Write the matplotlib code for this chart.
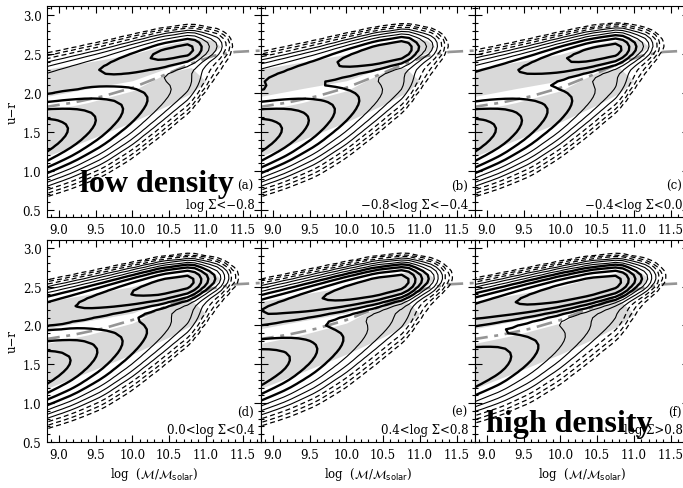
import numpy as np
import matplotlib.pyplot as plt

# environment bins
panel_tags = ['(a)', '(b)', '(c)', '(d)', '(e)', '(f)']
sigma_bins = ['log \u03a3<\u22120.8', '\u22120.8<log \u03a3<\u22120.4', '\u22120.4<log \u03a3<0.0',
              '0.0<log \u03a3<0.4', '0.4<log \u03a3<0.8', 'log \u03a3>0.8']

# colour-mass sequences sampled along stellar mass
mass_nodes = [8.8, 9.2, 9.6, 10.0, 10.4, 10.8, 11.2, 11.6]
red_mu = [2.18, 2.26, 2.34, 2.42, 2.50, 2.57, 2.62, 2.65]
red_sig = [0.15, 0.145, 0.14, 0.135, 0.13, 0.12, 0.11, 0.10]
blue_mu = [1.45, 1.56, 1.69, 1.84, 2.00, 2.15, 2.40, 2.55]
blue_sig = [0.26, 0.27, 0.28, 0.27, 0.24, 0.19, 0.13, 0.10]

# log ridge density of each sequence per environment bin
red_ridge = [
    [-0.98, -0.92, -0.85, -0.70, -0.54, -0.50, -1.30, -3.20],
    [-0.88, -0.82, -0.74, -0.58, -0.44, -0.42, -1.25, -3.10],
    [-0.78, -0.72, -0.62, -0.46, -0.34, -0.33, -1.20, -3.00],
    [-0.62, -0.55, -0.45, -0.32, -0.20, -0.22, -1.10, -2.90],
    [-0.46, -0.38, -0.27, -0.15, -0.07, -0.12, -1.05, -2.80],
    [-0.30, -0.22, -0.12, -0.03, 0.00, -0.08, -1.00, -2.80],
]
blue_ridge = [
    [0.00, -0.20, -0.42, -0.64, -0.90, -1.15, -1.90, -3.40],
    [-0.02, -0.22, -0.45, -0.68, -0.94, -1.20, -1.95, -3.40],
    [-0.05, -0.25, -0.49, -0.72, -0.98, -1.25, -2.00, -3.40],
    [-0.15, -0.33, -0.56, -0.80, -1.05, -1.30, -2.05, -3.40],
    [-0.25, -0.42, -0.64, -0.87, -1.12, -1.36, -2.10, -3.40],
    [-0.35, -0.50, -0.72, -0.94, -1.18, -1.42, -2.15, -3.40],
]

# +-1 sigma shading of the two sequences
red_band_x = [8.84, 9.4, 10.0, 10.5, 10.9, 11.1, 11.2]
red_band_lo = [1.96, 2.06, 2.16, 2.33, 2.45, 2.52, 2.60]
red_band_hi = [2.31, 2.40, 2.50, 2.63, 2.70, 2.68, 2.60]
blue_band_x = [8.84, 9.4, 10.0, 10.5, 10.8, 11.0]
blue_band_lo = [1.19, 1.40, 1.63, 1.85, 2.00, 2.15]
blue_band_hi = [1.77, 1.88, 2.03, 2.27, 2.33, 2.15]

# red/blue dividing line
div_mass = [8.8, 9.2, 9.6, 10.0, 10.4, 10.8, 11.1, 11.4, 11.8]
div_color = [1.82, 1.88, 1.96, 2.07, 2.22, 2.38, 2.48, 2.53, 2.55]

levels = 0.01 * 1.6 ** np.arange(10)
styles = [(0, (4, 2.5))] * 3 + ['solid'] * 7
widths = [0.9] * 3 + [0.8] * 3 + [1.7] * 4

xg = np.arange(8.75, 11.85, 0.1)
yg = np.arange(0.40, 3.25, 0.05)
X, Y = np.meshgrid(xg, yg)


def density(k):
    d = np.zeros_like(X)
    for mu, sg, rg in ((red_mu, red_sig, red_ridge[k]), (blue_mu, blue_sig, blue_ridge[k])):
        m = np.interp(X, mass_nodes, mu)
        s = np.interp(X, mass_nodes, sg)
        a = 10 ** np.interp(X, mass_nodes, rg)
        d += a * np.exp(-0.5 * ((Y - m) / s) ** 2)
    return d / d.max()


W, H = 683, 489
fig = plt.figure(figsize=(W / 100, H / 100), dpi=100)
cols = [47, 261, 475]
rows = [(7, 218), (241, 443)]
serif = 'DejaVu Serif'

for k in range(6):
    r, c = divmod(k, 3)
    top, bot = rows[r]
    ax = fig.add_axes([cols[c] / W, 1 - bot / H, 214 / W, (bot - top) / H])
    ax.fill_between(red_band_x, red_band_lo, red_band_hi, color='#d9d9d9', lw=0, zorder=1)
    ax.fill_between(blue_band_x, blue_band_lo, blue_band_hi, color='#d9d9d9', lw=0, zorder=1)
    ax.plot(div_mass, div_color, color='#959595', lw=1.9, dashes=(6, 2.5, 1.5, 2.5), zorder=2)
    ax.contour(X, Y, density(k), levels=levels, colors='k', linestyles=styles,
               linewidths=widths, zorder=3)
    ax.set_xlim(8.84, 11.75)
    ax.set_ylim(0.41 if r == 0 else 0.5, 3.12 if r == 0 else 3.1)
    ax.set_xticks(np.arange(9.0, 11.51, 0.5))
    ax.set_xticks(np.arange(8.9, 11.75, 0.1), minor=True)
    ax.set_yticks(np.arange(0.5, 3.01, 0.5))
    ax.set_yticks(np.arange(0.5, 3.11, 0.1), minor=True)
    ax.tick_params(which='both', direction='in', top=True, right=True, labelsize=8.5,
                   width=0.8, pad=4)
    ax.tick_params(which='major', length=5)
    ax.tick_params(which='minor', length=2.5)
    for lab in ax.get_xticklabels() + ax.get_yticklabels():
        lab.set_family(serif)
    if c != 0:
        ax.set_yticklabels([])
    ax.text(0.965, 0.15, panel_tags[k], transform=ax.transAxes, ha='right', va='center',
            family=serif, fontsize=8.5)
    ax.text(0.97, 0.06, sigma_bins[k], transform=ax.transAxes, ha='right', va='center',
            family=serif, fontsize=8.5)
    if r == 1:
        ax.set_xlabel(r'log  ($\mathcal{M}/\mathcal{M}_{\rm solar}$)', family=serif,
                      fontsize=8.5, labelpad=3)
    if k == 0:
        ax.text(0.154, 0.123, 'low density', transform=ax.transAxes, ha='left',
                va='baseline', family='Liberation Serif', weight='bold', fontsize=23)
    if k == 5:
        ax.text(0.05, 0.054, 'high density', transform=ax.transAxes, ha='left',
                va='baseline', family='Liberation Serif', weight='bold', fontsize=23)

fig.text(12 / W, 1 - 112 / H, 'u\u2212r', rotation=90, ha='center', va='center',
         family=serif, fontsize=8.5)
fig.text(12 / W, 1 - 342 / H, 'u\u2212r', rotation=90, ha='center', va='center',
         family=serif, fontsize=8.5)

fig.savefig('out.png', dpi=100)
